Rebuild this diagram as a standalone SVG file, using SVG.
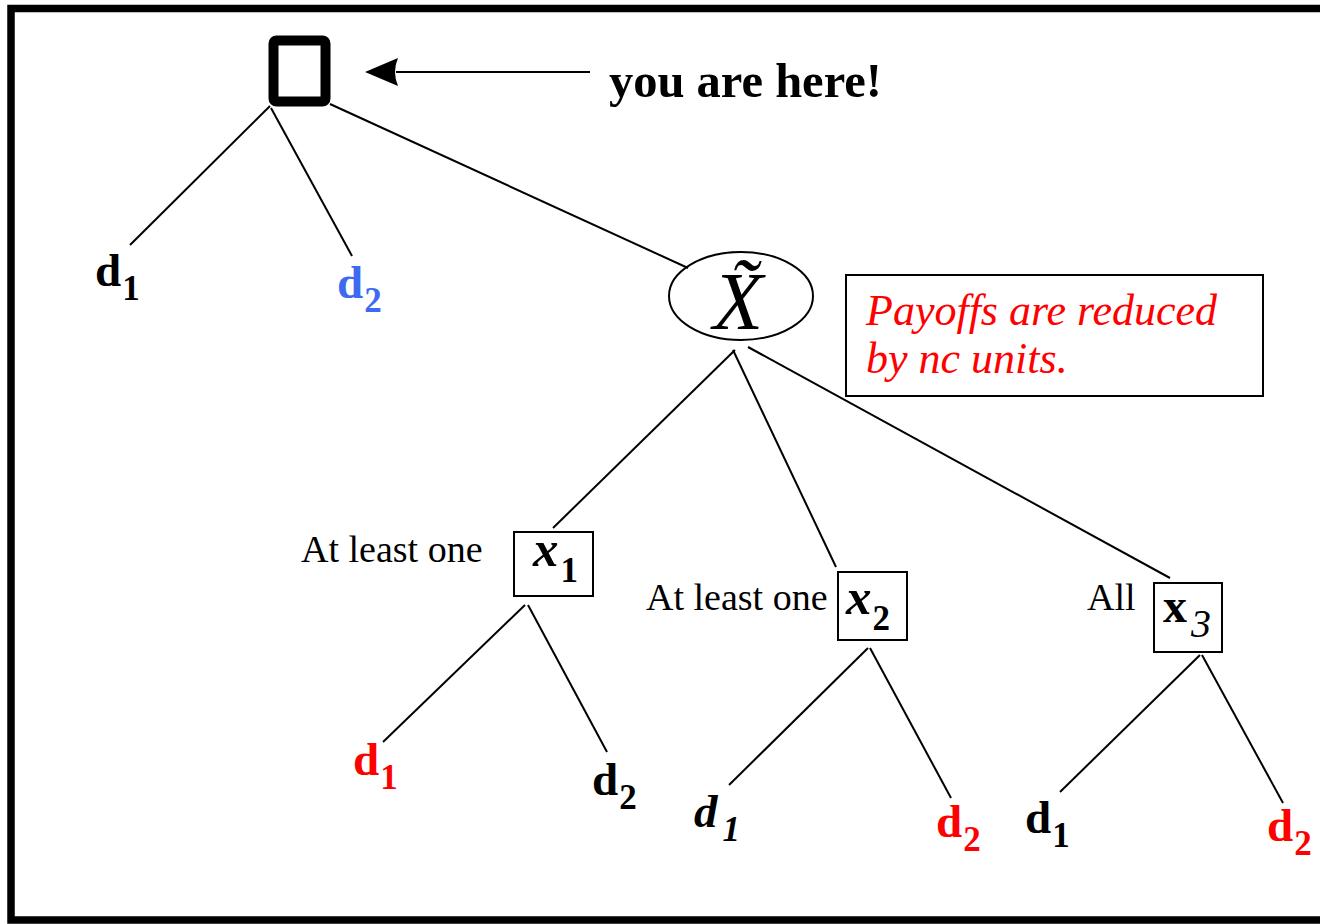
<svg xmlns="http://www.w3.org/2000/svg" width="1320" height="924" viewBox="0 0 1320 924">
<style>
.b{font-family:"Liberation Serif","Times New Roman",serif;font-weight:bold;font-size:47px}
.s{font-size:35px}
.r{font-family:"Liberation Serif","Times New Roman",serif;font-size:38px}
.it{font-family:"Liberation Serif","Times New Roman",serif;font-style:italic;font-size:44px;fill:#FF0000}
.ln{stroke:#000;stroke-width:2;fill:none}
.red{fill:#FF0000}
.blue{fill:#3D6BF0}
</style>
<rect x="11" y="8.5" width="1330" height="911.5" fill="none" stroke="#000" stroke-width="7.5"/>
<g id="connectors" class="ln">
<line x1="270" y1="106" x2="130" y2="245"/>
<line x1="271" y1="108" x2="352" y2="256"/>
<line x1="330" y1="104" x2="688" y2="268"/>
<line x1="735" y1="350" x2="553" y2="528"/>
<line x1="733" y1="350" x2="836" y2="567"/>
<line x1="748" y1="347" x2="1170" y2="578"/>
<line x1="525" y1="605" x2="383" y2="742"/>
<line x1="528" y1="605" x2="607" y2="752"/>
<line x1="868" y1="648" x2="729" y2="785"/>
<line x1="870" y1="648" x2="951" y2="798"/>
<line x1="1200" y1="655" x2="1060" y2="792"/>
<line x1="1202" y1="655" x2="1283" y2="803"/>
<line x1="396" y1="72" x2="590" y2="72"/>
<path d="M365,72 L398,58 Q392,72 398,86 Z" fill="#000" stroke="none"/>
</g>
<g id="root">
<rect x="273.5" y="40.5" width="52" height="61" rx="3" fill="none" stroke="#000" stroke-width="10"/>
</g>
<g id="here-label">
<text class="b" x="609" y="97" style="font-size:48.5px">you are here!</text>
</g>
<g id="top-d1"><text class="b" x="95" y="286">d<tspan class="s" dx="1" dy="14">1</tspan></text></g>
<g id="top-d2"><text class="b blue" x="337" y="298">d<tspan class="s" dx="1" dy="14">2</tspan></text></g>
<g id="chance">
<ellipse cx="741" cy="296" rx="72" ry="44" fill="none" stroke="#000" stroke-width="2"/>
<text x="738" y="329" text-anchor="middle" font-family="Liberation Serif, serif" font-style="italic" font-size="82">X&#x303;</text>
</g>
<g id="note">
<rect x="846" y="275" width="417" height="121" fill="#fff" stroke="#000" stroke-width="2"/>
<text class="it" x="866" y="325">Payoffs are reduced</text>
<text class="it" x="866" y="373">by nc units.</text>
</g>
<g id="x1">
<text class="r" x="301" y="562">At least one</text>
<rect x="514" y="532" width="79" height="64" fill="#fff" stroke="#000" stroke-width="2"/>
<text class="b" x="533" y="566" style="font-size:51px;font-style:italic">x<tspan class="s" style="font-style:normal" dx="2" dy="16">1</tspan></text>
</g>
<g id="x2">
<text class="r" x="646" y="610">At least one</text>
<rect x="838" y="572" width="69" height="68" fill="#fff" stroke="#000" stroke-width="2"/>
<text class="b" x="846" y="614" style="font-size:51px;font-style:italic">x<tspan class="s" style="font-style:normal" dx="1" dy="16">2</tspan></text>
</g>
<g id="x3">
<text class="r" x="1087" y="610">All</text>
<rect x="1154" y="583" width="68" height="69" fill="#fff" stroke="#000" stroke-width="2"/>
<text class="b" x="1163" y="622" style="font-size:48px">x<tspan style="font-style:italic;font-weight:normal;font-size:40px" dx="4" dy="15">3</tspan></text>
</g>
<g id="l1"><text class="b red" x="353" y="775">d<tspan class="s" dx="1" dy="14">1</tspan></text></g>
<g id="l2"><text class="b" x="592" y="795">d<tspan class="s" dx="1" dy="14">2</tspan></text></g>
<g id="l3"><text class="b" x="694" y="827" style="font-style:italic">d<tspan class="s" dx="5" dy="14">1</tspan></text></g>
<g id="l4"><text class="b red" x="936" y="837">d<tspan class="s" dx="1" dy="14">2</tspan></text></g>
<g id="l5"><text class="b" x="1025" y="833">d<tspan class="s" dx="1" dy="14">1</tspan></text></g>
<g id="l6"><text class="b red" x="1267" y="841">d<tspan class="s" dx="1" dy="14">2</tspan></text></g>
</svg>
